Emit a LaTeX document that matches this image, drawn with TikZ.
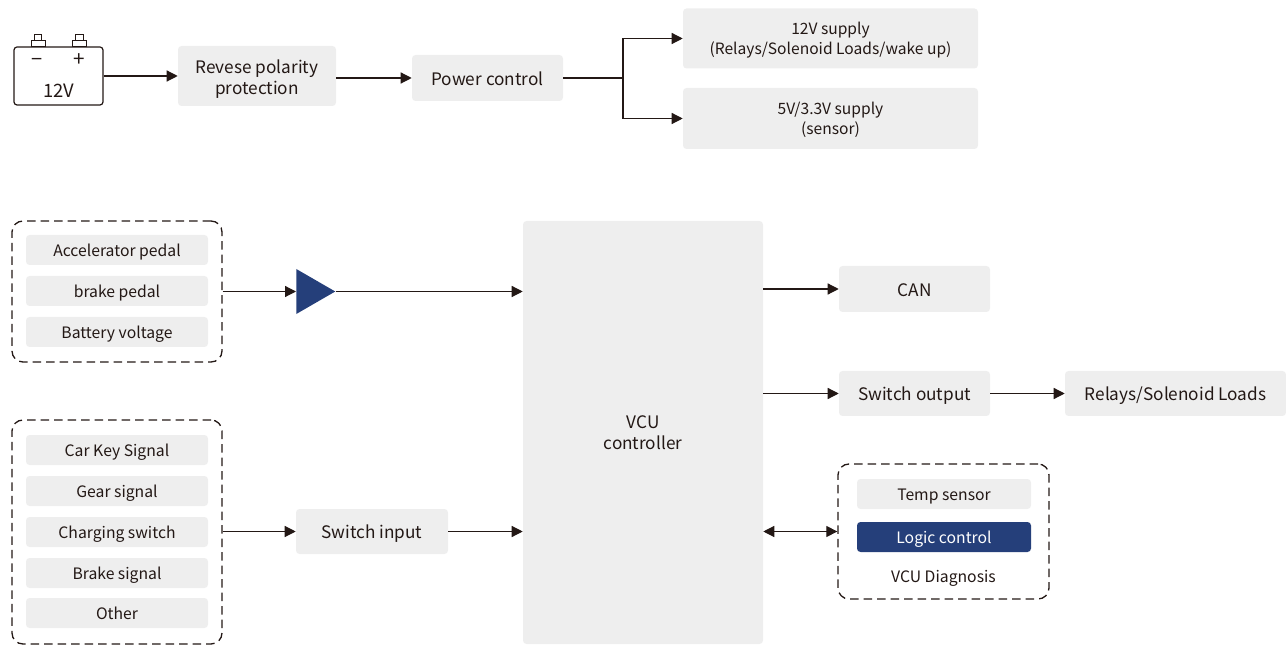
\documentclass[tikz,border=0pt]{standalone}
\usepackage{fontspec}
\setmainfont{Noto Sans CJK SC}
\usetikzlibrary{arrows.meta}
\usetikzlibrary{shapes.geometric}
\definecolor{boxgray}{HTML}{EEEEEE}
\definecolor{navy}{HTML}{253F7A}
\definecolor{ink}{HTML}{231815}
\def\u{.75pt}
\tikzset{
 one/.style={text height=14.5*\u, text depth=0pt},
 two/.style={text height=37*\u, text depth=0pt},
 twosmall/.style={text height=31.5*\u, text depth=0pt, font=\fontsize{11.7}{14.6}\selectfont},
 box/.style={fill=boxgray, rounded corners=3.5*\u, text=ink, align=center, inner sep=0, one, font=\fontsize{12.9}{16}\selectfont},
 item/.style={box, minimum width=182*\u, minimum height=30*\u, text height=12.5*\u, font=\fontsize{11.8}{14}\selectfont},
 group/.style={draw=ink, line width=1.3*\u, rounded corners=11*\u, dash pattern=on 8.5*\u off 5*\u},
 link/.style={draw=ink, line width=1.2*\u, -{Triangle[length=11*\u,width=11*\u]}},
 wire/.style={draw=ink, line width=1.2*\u},
 post/.style={draw=ink, line width=1*\u, fill=white, inner sep=0},
}
\begin{document}
\begin{tikzpicture}[x=\u,y=-\u]
\useasboundingbox (0,0) rectangle (1286,645);
% supply chain
\node[post, minimum width=7.5*\u, minimum height=7*\u] (negtop) at (38,38.5) {};
\node[post, minimum width=14*\u, minimum height=6*\u] (negbase) at (38,44) {};
\node[post, minimum width=7.5*\u, minimum height=7*\u] (postop) at (79.5,38.5) {};
\node[post, minimum width=14*\u, minimum height=6*\u] (posbase) at (79.5,44) {};
\node[draw=ink, line width=1.2*\u, rounded corners=3*\u, minimum width=89*\u, minimum height=58*\u, inner sep=0] (batt) at (58.5,76) {};
\node[text=ink, one, inner sep=0, font=\fontsize{13.8}{15}\selectfont] (volt) at (59,90) {12V};
\node[text=ink, inner sep=0, font=\fontsize{15}{15}\selectfont] (minus) at (37.5,62) {−};
\node[text=ink, inner sep=0, font=\fontsize{15.5}{15}\selectfont] (plus) at (79,60) {+};
\node[box, two, minimum width=158*\u, minimum height=60*\u] (polarity) at (257,76) {Revese polarity\\protection};
\node[box, minimum width=151*\u, minimum height=46*\u] (power) at (487.5,78) {Power control};
\node[box, twosmall, minimum width=295*\u, minimum height=60*\u] (high) at (830.5,38.5) {12V supply\\(Relays/Solenoid Loads/wake up)};
\node[box, twosmall, minimum width=295*\u, minimum height=61*\u] (low) at (830.5,118.5) {5V/3.3V supply\\(sensor)};
\coordinate (fork) at (623,78);
\draw[link] (batt.east |- polarity) -- (polarity);
\draw[link] (polarity.east |- power) -- (power);
\draw[wire] (power) -- (fork);
\draw[link] (fork) |- (high);
\draw[link] (fork) |- (low);
% analog inputs
\node[group, minimum width=210*\u, minimum height=141*\u] (analog) at (117,291.5) {};
\foreach \name/\y/\txt in {pedal/250/Accelerator pedal, brake/291/brake pedal, battv/332/Battery voltage} {
 \node[item] (\name) at (117,\y) {\txt};
}
\node[isosceles triangle, isosceles triangle apex angle=60, fill=navy, inner sep=0, minimum width=39*\u, minimum height=39*\u, anchor=lower side] (amp) at (296,291.5) {};
% controller
\node[box, two, text height=34.5*\u, minimum width=240*\u, minimum height=423*\u] (vcu) at (643,432.5) {VCU\\controller};
\draw[link] (analog.east |- amp.lower side) -- (amp.lower side);
\draw[link] (amp.apex) -- (vcu.west |- amp.apex);
% switch inputs
\node[group, minimum width=210*\u, minimum height=224*\u] (keys) at (117,532) {};
\foreach \name/\y/\txt in {key/450/Car Key Signal, gear/491/Gear signal, charge/532/Charging switch, bsignal/573/Brake signal, other/613/Other} {
 \node[item] (\name) at (117,\y) {\txt};
}
\node[box, minimum width=152*\u, minimum height=45*\u] (switchin) at (372,531.5) {Switch input};
\draw[link] (keys.east |- switchin) -- (switchin);
\draw[link] (switchin) -- (vcu.west |- switchin);
% outputs
\node[box, minimum width=151*\u, minimum height=46*\u] (can) at (914.5,289) {CAN};
\node[box, minimum width=151*\u, minimum height=45*\u] (switchout) at (914.5,393.5) {Switch output};
\node[box, minimum width=221*\u, minimum height=45*\u] (loads) at (1175.5,393.5) {Relays/Solenoid Loads};
\draw[link] (vcu.east |- can) -- (can);
\draw[link] (vcu.east |- switchout) -- (switchout);
\draw[link] (switchout) -- (loads);
% diagnosis
\node[group, minimum width=211*\u, minimum height=135*\u] (diag) at (943.5,531.5) {};
\node[item, minimum width=174*\u] (temp) at (944,494) {Temp sensor};
\node[item, minimum width=174*\u, fill=navy, text=white] (logic) at (944,537) {Logic control};
\node[text=ink, one, text height=12.5*\u, inner sep=0, font=\fontsize{11.8}{14}\selectfont] (diagname) at (943.5,576) {VCU Diagnosis};
\draw[link, {Triangle[length=11*\u,width=11*\u]}-{Triangle[length=11*\u,width=11*\u]}] (vcu.east |- diag) -- (diag);
\end{tikzpicture}
\end{document}
